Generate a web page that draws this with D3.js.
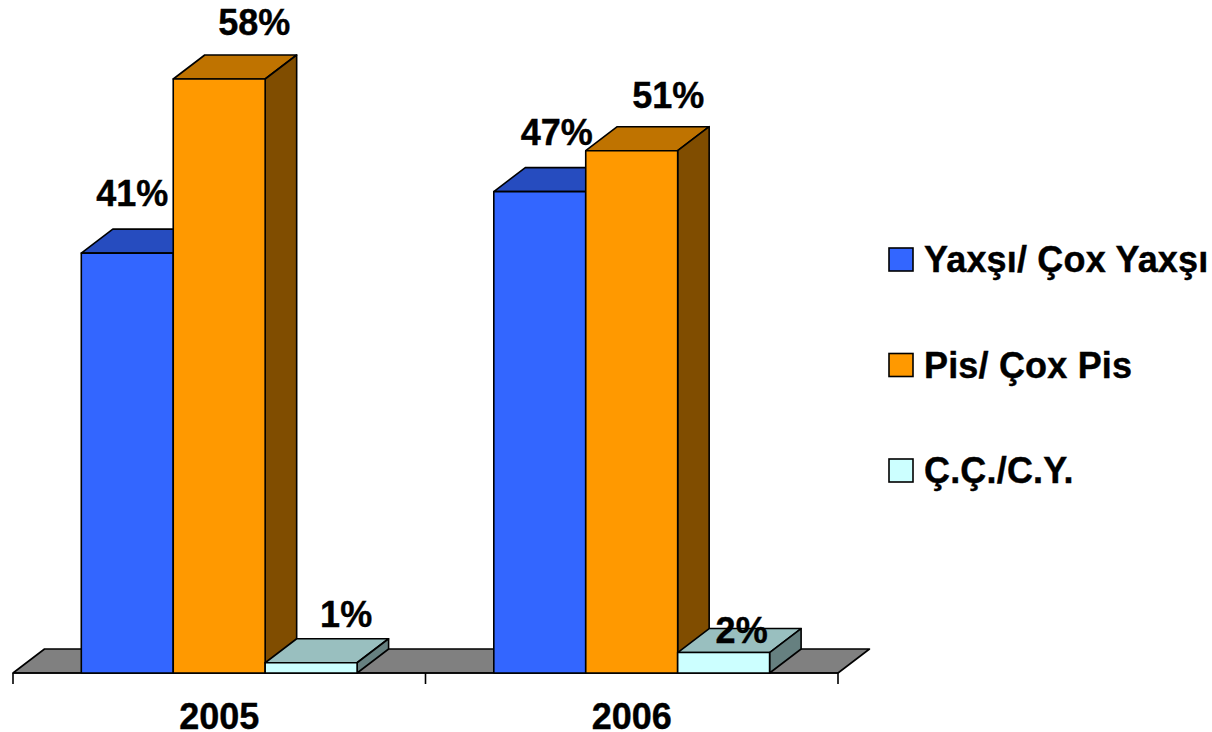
<!DOCTYPE html>
<html><head><meta charset="utf-8">
<script src="https://cdn.jsdelivr.net/npm/d3@7/dist/d3.min.js"></script>
<style>html,body{margin:0;padding:0;background:#fff}svg{display:block}text{font-family:"Liberation Sans",Arial,sans-serif;font-weight:700;fill:#000;stroke:#000;stroke-width:.4px}</style>
</head><body><svg id="c" width="1212" height="732"></svg>
<script>
const categories = ["2005", "2006"];
const seriesNames = ["Yaxşı/ Çox Yaxşı", "Pis/ Çox Pis", "Ç.Ç./C.Y."];
const yaxsi = [41, 47];
const pis = [58, 51];
const cc = [1, 2];
const seriesValues = [yaxsi, pis, cc];
const front = ["#3366FF", "#FF9900", "#CCFFFF"];
const top3 = ["#264CBF", "#BF7300", "#99BFBF"];
const side = ["#1A3380", "#804D00", "#668080"];
// manual label nudges as in the original (series -> category -> [dx, dy])
const nudges = [[[5,-47],[17,-47]],[[35,-44],[36.5,-43]],[[35,-36],[18,-10]]];

const svg = d3.select("#c");
const FS = 36, DX = 31.5, DY = 24, SW = 1.6;
const y = d3.scaleLinear().domain([0, 58]).range([673, 79]);
const x0 = d3.scaleBand().domain(categories).range([13, 838]);
const x1 = d3.scaleBand().domain(d3.range(3)).range([68.3, x0.bandwidth() - 68.4]);
const poly = pts => pts.map(p => p.join(",")).join(" ");
const base = y(0);

svg.append("polygon").attr("points", poly([[13,base],[13+DX,base-DY],[838+DX,base-DY],[838,base]]))
  .attr("fill","#808080").attr("stroke","#000").attr("stroke-width",SW).attr("stroke-linejoin","round");

const axis = d3.axisBottom(x0).tickSize(0).tickPadding(0);
const ax = svg.append("g").attr("transform",`translate(0,${base})`).call(axis);
ax.select(".domain").remove();
ax.selectAll("text").attr("y",56).attr("dy",0).style("font-size",FS+"px").attr("fill","#000");
const edges = [...categories.map(c=>x0(c)), x0.range()[1]];
svg.append("line").attr("x1",13).attr("x2",838).attr("y1",base).attr("y2",base).attr("stroke","#000").attr("stroke-width",SW);
svg.selectAll(".edge").data(edges).join("line").attr("class","edge")
  .attr("x1",d=>d).attr("x2",d=>d).attr("y1",base).attr("y2",base+11).attr("stroke","#000").attr("stroke-width",SW);

const marks = svg.append("g").attr("stroke","#000").attr("stroke-width",SW).attr("stroke-linejoin","round");
categories.forEach((c,ci)=>{
  seriesValues.forEach((vals,si)=>{
    const l = x0(c)+x1(si), r = l+x1.bandwidth(), t = y(vals[ci]);
    marks.append("polygon").attr("fill",top3[si]).attr("points",poly([[l,t],[l+DX,t-DY],[r+DX,t-DY],[r,t]]));
    marks.append("polygon").attr("fill",side[si]).attr("points",poly([[r,t],[r+DX,t-DY],[r+DX,base-DY],[r,base]]));
    marks.append("rect").attr("fill",front[si]).attr("x",l).attr("y",t).attr("width",r-l).attr("height",base-t);
  });
});
categories.forEach((c,ci)=>{
  seriesValues.forEach((vals,si)=>{
    const [nx,ny] = nudges[si][ci];
    svg.append("text").attr("text-anchor","middle").style("font-size",FS+"px")
      .attr("x",x0(c)+x1(si)+x1.bandwidth()/2+nx).attr("y",y(vals[ci])+ny).text(vals[ci]+"%");
  });
});
const ly = d3.scalePoint().domain(seriesNames).range([259.5, 470.5]);
const lg = svg.selectAll(".lg").data(seriesNames).join("g").attr("class","lg");
lg.append("rect").attr("x",889).attr("y",d=>ly(d)-11.5).attr("width",24).attr("height",23)
  .attr("fill",(d,i)=>front[i]).attr("stroke","#000").attr("stroke-width",SW);
lg.append("text").attr("x",924).attr("y",d=>ly(d)+12.5).style("font-size",FS+"px").style("letter-spacing",".18px").text(d=>d);
</script></body></html>
